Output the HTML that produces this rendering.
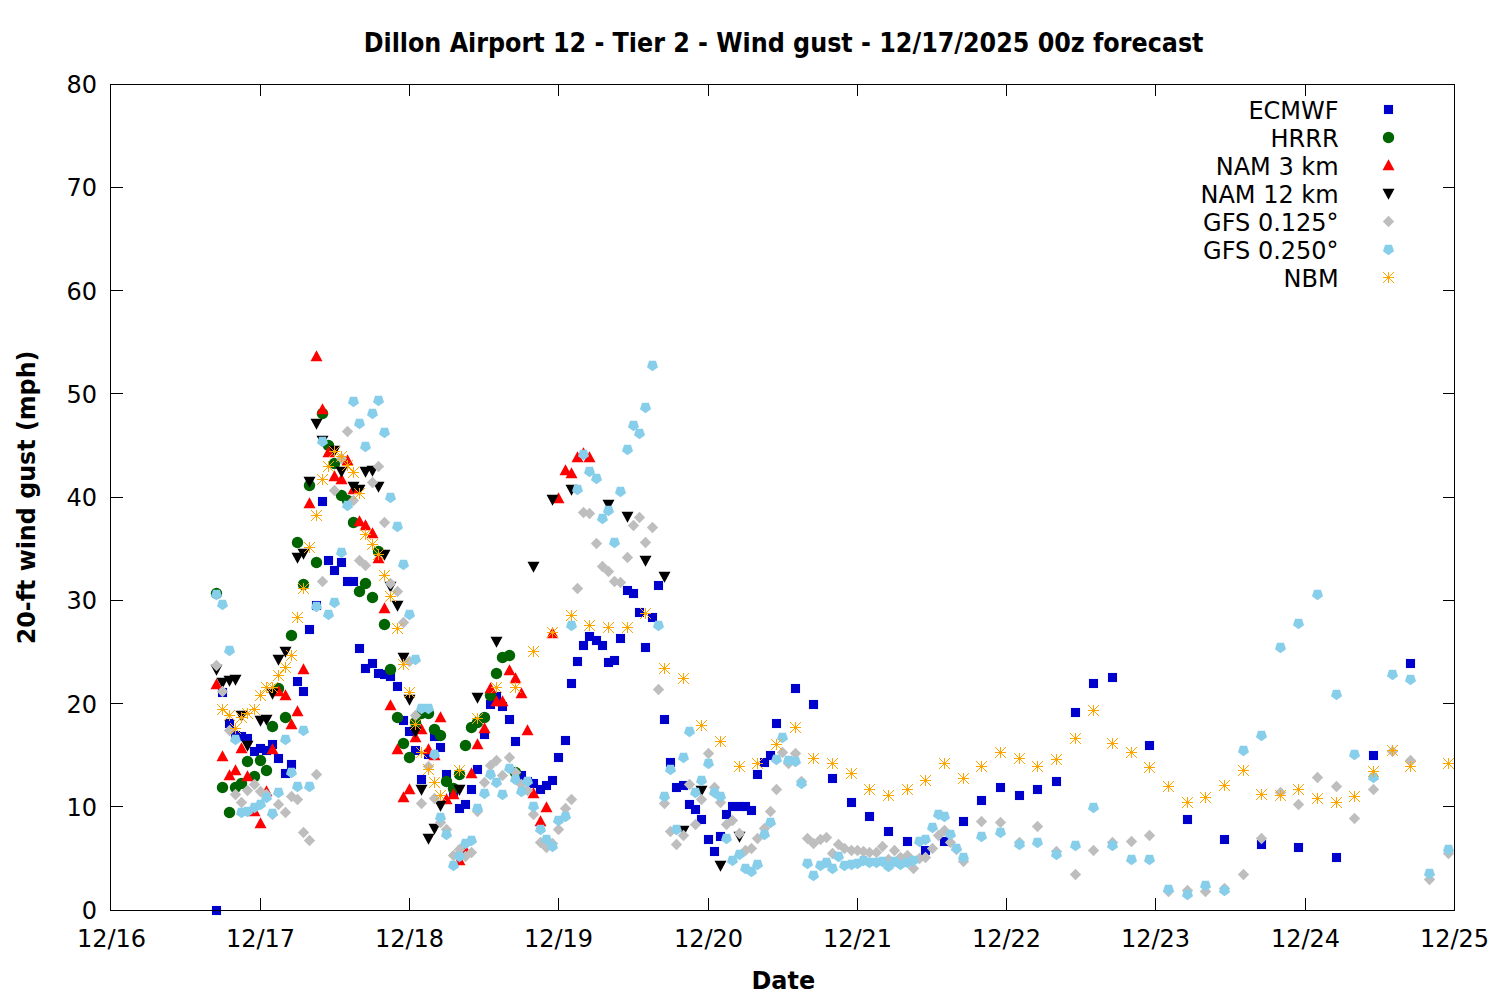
<!DOCTYPE html>
<html><head><meta charset="utf-8"><title>Dillon Airport 12 - Wind gust</title>
<style>html,body{margin:0;padding:0;background:#fff}svg{display:block}text{font-family:"DejaVu Sans","Liberation Sans",sans-serif;font-size:24px;fill:#000}.b{font-family:"DejaVu Sans Condensed","DejaVu Sans","Liberation Sans",sans-serif;font-stretch:condensed;font-weight:bold;font-size:26.5px}.c{font-size:25.2px}</style></head><body>
<svg width="1500" height="1000" viewBox="0 0 1500 1000">
<rect width="1500" height="1000" fill="#fff"/>
<text x="97" y="919.1" text-anchor="end">0</text>
<text x="97" y="815.9" text-anchor="end">10</text>
<text x="97" y="712.6" text-anchor="end">20</text>
<text x="97" y="609.4" text-anchor="end">30</text>
<text x="97" y="506.1" text-anchor="end">40</text>
<text x="97" y="402.9" text-anchor="end">50</text>
<text x="97" y="299.6" text-anchor="end">60</text>
<text x="97" y="196.4" text-anchor="end">70</text>
<text x="97" y="93.1" text-anchor="end">80</text>
<text x="111.5" y="947" text-anchor="middle">12/16</text>
<text x="260.5" y="947" text-anchor="middle">12/17</text>
<text x="409.5" y="947" text-anchor="middle">12/18</text>
<text x="558.5" y="947" text-anchor="middle">12/19</text>
<text x="708.5" y="947" text-anchor="middle">12/20</text>
<text x="857.5" y="947" text-anchor="middle">12/21</text>
<text x="1006.5" y="947" text-anchor="middle">12/22</text>
<text x="1155.5" y="947" text-anchor="middle">12/23</text>
<text x="1305.5" y="947" text-anchor="middle">12/24</text>
<text x="1454.5" y="947" text-anchor="middle">12/25</text>
<text class="b" x="783.6" y="51.6" text-anchor="middle">Dillon Airport 12 - Tier 2 - Wind gust - 12/17/2025 00z forecast</text>
<text class="b c" transform="translate(783.3 988.9) scale(1.055 1)" text-anchor="middle">Date</text>
<text class="b c" transform="translate(35 497.4) rotate(-90) scale(1.05 1)" text-anchor="middle">20-ft wind gust (mph)</text>
<g id="pts">
<g>
<rect x="211.95" y="905.95" width="9.1" height="9.1" fill="#0000cd"/>
<rect x="217.95" y="687.95" width="9.1" height="9.1" fill="#0000cd"/>
<rect x="224.95" y="718.95" width="9.1" height="9.1" fill="#0000cd"/>
<rect x="230.95" y="730.95" width="9.1" height="9.1" fill="#0000cd"/>
<rect x="236.95" y="731.95" width="9.1" height="9.1" fill="#0000cd"/>
<rect x="242.95" y="733.95" width="9.1" height="9.1" fill="#0000cd"/>
<rect x="249.95" y="746.95" width="9.1" height="9.1" fill="#0000cd"/>
<rect x="255.95" y="743.95" width="9.1" height="9.1" fill="#0000cd"/>
<rect x="261.95" y="745.95" width="9.1" height="9.1" fill="#0000cd"/>
<rect x="267.95" y="739.95" width="9.1" height="9.1" fill="#0000cd"/>
<rect x="273.95" y="753.95" width="9.1" height="9.1" fill="#0000cd"/>
<rect x="280.95" y="768.95" width="9.1" height="9.1" fill="#0000cd"/>
<rect x="286.95" y="759.95" width="9.1" height="9.1" fill="#0000cd"/>
<rect x="292.95" y="676.95" width="9.1" height="9.1" fill="#0000cd"/>
<rect x="298.95" y="686.95" width="9.1" height="9.1" fill="#0000cd"/>
<rect x="304.95" y="624.95" width="9.1" height="9.1" fill="#0000cd"/>
<rect x="311.95" y="600.95" width="9.1" height="9.1" fill="#0000cd"/>
<rect x="317.95" y="496.95" width="9.1" height="9.1" fill="#0000cd"/>
<rect x="323.95" y="555.95" width="9.1" height="9.1" fill="#0000cd"/>
<rect x="329.95" y="565.95" width="9.1" height="9.1" fill="#0000cd"/>
<rect x="336.95" y="557.95" width="9.1" height="9.1" fill="#0000cd"/>
<rect x="342.95" y="576.95" width="9.1" height="9.1" fill="#0000cd"/>
<rect x="348.95" y="576.95" width="9.1" height="9.1" fill="#0000cd"/>
<rect x="354.95" y="643.95" width="9.1" height="9.1" fill="#0000cd"/>
<rect x="360.95" y="663.95" width="9.1" height="9.1" fill="#0000cd"/>
<rect x="367.95" y="658.95" width="9.1" height="9.1" fill="#0000cd"/>
<rect x="373.95" y="668.95" width="9.1" height="9.1" fill="#0000cd"/>
<rect x="379.95" y="669.95" width="9.1" height="9.1" fill="#0000cd"/>
<rect x="385.95" y="671.95" width="9.1" height="9.1" fill="#0000cd"/>
<rect x="392.95" y="681.95" width="9.1" height="9.1" fill="#0000cd"/>
<rect x="398.95" y="715.95" width="9.1" height="9.1" fill="#0000cd"/>
<rect x="404.95" y="726.95" width="9.1" height="9.1" fill="#0000cd"/>
<rect x="410.95" y="745.95" width="9.1" height="9.1" fill="#0000cd"/>
<rect x="416.95" y="774.95" width="9.1" height="9.1" fill="#0000cd"/>
<rect x="423.95" y="749.95" width="9.1" height="9.1" fill="#0000cd"/>
<rect x="429.95" y="731.95" width="9.1" height="9.1" fill="#0000cd"/>
<rect x="435.95" y="742.95" width="9.1" height="9.1" fill="#0000cd"/>
<rect x="441.95" y="769.95" width="9.1" height="9.1" fill="#0000cd"/>
<rect x="448.95" y="787.95" width="9.1" height="9.1" fill="#0000cd"/>
<rect x="454.95" y="803.95" width="9.1" height="9.1" fill="#0000cd"/>
<rect x="460.95" y="799.95" width="9.1" height="9.1" fill="#0000cd"/>
<rect x="466.95" y="784.95" width="9.1" height="9.1" fill="#0000cd"/>
<rect x="472.95" y="764.95" width="9.1" height="9.1" fill="#0000cd"/>
<rect x="479.95" y="729.95" width="9.1" height="9.1" fill="#0000cd"/>
<rect x="485.95" y="699.95" width="9.1" height="9.1" fill="#0000cd"/>
<rect x="491.95" y="691.95" width="9.1" height="9.1" fill="#0000cd"/>
<rect x="497.95" y="701.95" width="9.1" height="9.1" fill="#0000cd"/>
<rect x="504.95" y="714.95" width="9.1" height="9.1" fill="#0000cd"/>
<rect x="510.95" y="736.95" width="9.1" height="9.1" fill="#0000cd"/>
<rect x="516.95" y="770.95" width="9.1" height="9.1" fill="#0000cd"/>
<rect x="522.95" y="776.95" width="9.1" height="9.1" fill="#0000cd"/>
<rect x="528.95" y="778.95" width="9.1" height="9.1" fill="#0000cd"/>
<rect x="535.95" y="784.95" width="9.1" height="9.1" fill="#0000cd"/>
<rect x="541.95" y="780.95" width="9.1" height="9.1" fill="#0000cd"/>
<rect x="547.95" y="775.95" width="9.1" height="9.1" fill="#0000cd"/>
<rect x="553.95" y="752.95" width="9.1" height="9.1" fill="#0000cd"/>
<rect x="560.95" y="735.95" width="9.1" height="9.1" fill="#0000cd"/>
<rect x="566.95" y="678.95" width="9.1" height="9.1" fill="#0000cd"/>
<rect x="572.95" y="656.95" width="9.1" height="9.1" fill="#0000cd"/>
<rect x="578.95" y="640.95" width="9.1" height="9.1" fill="#0000cd"/>
<rect x="584.95" y="631.95" width="9.1" height="9.1" fill="#0000cd"/>
<rect x="591.95" y="635.95" width="9.1" height="9.1" fill="#0000cd"/>
<rect x="597.95" y="640.95" width="9.1" height="9.1" fill="#0000cd"/>
<rect x="603.95" y="657.95" width="9.1" height="9.1" fill="#0000cd"/>
<rect x="609.95" y="655.95" width="9.1" height="9.1" fill="#0000cd"/>
<rect x="615.95" y="633.95" width="9.1" height="9.1" fill="#0000cd"/>
<rect x="622.95" y="585.95" width="9.1" height="9.1" fill="#0000cd"/>
<rect x="628.95" y="588.95" width="9.1" height="9.1" fill="#0000cd"/>
<rect x="634.95" y="607.95" width="9.1" height="9.1" fill="#0000cd"/>
<rect x="640.95" y="642.95" width="9.1" height="9.1" fill="#0000cd"/>
<rect x="647.95" y="612.95" width="9.1" height="9.1" fill="#0000cd"/>
<rect x="653.95" y="580.95" width="9.1" height="9.1" fill="#0000cd"/>
<rect x="659.95" y="714.95" width="9.1" height="9.1" fill="#0000cd"/>
<rect x="665.95" y="757.95" width="9.1" height="9.1" fill="#0000cd"/>
<rect x="671.95" y="782.95" width="9.1" height="9.1" fill="#0000cd"/>
<rect x="678.95" y="780.95" width="9.1" height="9.1" fill="#0000cd"/>
<rect x="684.95" y="799.95" width="9.1" height="9.1" fill="#0000cd"/>
<rect x="690.95" y="804.95" width="9.1" height="9.1" fill="#0000cd"/>
<rect x="696.95" y="814.95" width="9.1" height="9.1" fill="#0000cd"/>
<rect x="703.95" y="834.95" width="9.1" height="9.1" fill="#0000cd"/>
<rect x="709.95" y="846.95" width="9.1" height="9.1" fill="#0000cd"/>
<rect x="715.95" y="831.95" width="9.1" height="9.1" fill="#0000cd"/>
<rect x="721.95" y="809.95" width="9.1" height="9.1" fill="#0000cd"/>
<rect x="727.95" y="801.95" width="9.1" height="9.1" fill="#0000cd"/>
<rect x="734.95" y="801.95" width="9.1" height="9.1" fill="#0000cd"/>
<rect x="740.95" y="801.95" width="9.1" height="9.1" fill="#0000cd"/>
<rect x="746.95" y="805.95" width="9.1" height="9.1" fill="#0000cd"/>
<rect x="752.95" y="769.95" width="9.1" height="9.1" fill="#0000cd"/>
<rect x="759.95" y="757.95" width="9.1" height="9.1" fill="#0000cd"/>
<rect x="765.95" y="750.95" width="9.1" height="9.1" fill="#0000cd"/>
<rect x="771.95" y="718.95" width="9.1" height="9.1" fill="#0000cd"/>
<rect x="790.95" y="683.95" width="9.1" height="9.1" fill="#0000cd"/>
<rect x="808.95" y="699.95" width="9.1" height="9.1" fill="#0000cd"/>
<rect x="827.95" y="773.95" width="9.1" height="9.1" fill="#0000cd"/>
<rect x="846.95" y="797.95" width="9.1" height="9.1" fill="#0000cd"/>
<rect x="864.95" y="811.95" width="9.1" height="9.1" fill="#0000cd"/>
<rect x="883.95" y="826.95" width="9.1" height="9.1" fill="#0000cd"/>
<rect x="902.95" y="836.95" width="9.1" height="9.1" fill="#0000cd"/>
<rect x="920.95" y="845.95" width="9.1" height="9.1" fill="#0000cd"/>
<rect x="939.95" y="836.95" width="9.1" height="9.1" fill="#0000cd"/>
<rect x="958.95" y="816.95" width="9.1" height="9.1" fill="#0000cd"/>
<rect x="976.95" y="795.95" width="9.1" height="9.1" fill="#0000cd"/>
<rect x="995.95" y="782.95" width="9.1" height="9.1" fill="#0000cd"/>
<rect x="1014.95" y="790.95" width="9.1" height="9.1" fill="#0000cd"/>
<rect x="1032.95" y="784.95" width="9.1" height="9.1" fill="#0000cd"/>
<rect x="1051.95" y="776.95" width="9.1" height="9.1" fill="#0000cd"/>
<rect x="1070.95" y="707.95" width="9.1" height="9.1" fill="#0000cd"/>
<rect x="1088.95" y="678.95" width="9.1" height="9.1" fill="#0000cd"/>
<rect x="1107.95" y="672.95" width="9.1" height="9.1" fill="#0000cd"/>
<rect x="1144.95" y="740.95" width="9.1" height="9.1" fill="#0000cd"/>
<rect x="1182.95" y="814.95" width="9.1" height="9.1" fill="#0000cd"/>
<rect x="1219.95" y="834.95" width="9.1" height="9.1" fill="#0000cd"/>
<rect x="1256.95" y="839.95" width="9.1" height="9.1" fill="#0000cd"/>
<rect x="1293.95" y="842.95" width="9.1" height="9.1" fill="#0000cd"/>
<rect x="1331.95" y="852.95" width="9.1" height="9.1" fill="#0000cd"/>
<rect x="1368.95" y="750.95" width="9.1" height="9.1" fill="#0000cd"/>
<rect x="1405.95" y="658.95" width="9.1" height="9.1" fill="#0000cd"/>
</g>
<g>
<circle cx="216.5" cy="593.5" r="5.7" fill="#006400"/>
<circle cx="222.5" cy="787.5" r="5.7" fill="#006400"/>
<circle cx="229.5" cy="812.5" r="5.7" fill="#006400"/>
<circle cx="235.5" cy="787.5" r="5.7" fill="#006400"/>
<circle cx="241.5" cy="783.5" r="5.7" fill="#006400"/>
<circle cx="247.5" cy="761.5" r="5.7" fill="#006400"/>
<circle cx="254.5" cy="776.5" r="5.7" fill="#006400"/>
<circle cx="260.5" cy="760.5" r="5.7" fill="#006400"/>
<circle cx="266.5" cy="770.5" r="5.7" fill="#006400"/>
<circle cx="272.5" cy="726.5" r="5.7" fill="#006400"/>
<circle cx="278.5" cy="688.5" r="5.7" fill="#006400"/>
<circle cx="285.5" cy="717.5" r="5.7" fill="#006400"/>
<circle cx="291.5" cy="635.5" r="5.7" fill="#006400"/>
<circle cx="297.5" cy="542.5" r="5.7" fill="#006400"/>
<circle cx="303.5" cy="584.5" r="5.7" fill="#006400"/>
<circle cx="309.5" cy="485.5" r="5.7" fill="#006400"/>
<circle cx="316.5" cy="562.5" r="5.7" fill="#006400"/>
<circle cx="322.5" cy="413.5" r="5.7" fill="#006400"/>
<circle cx="328.5" cy="445.5" r="5.7" fill="#006400"/>
<circle cx="334.5" cy="463.5" r="5.7" fill="#006400"/>
<circle cx="341.5" cy="495.5" r="5.7" fill="#006400"/>
<circle cx="347.5" cy="500.5" r="5.7" fill="#006400"/>
<circle cx="353.5" cy="522.5" r="5.7" fill="#006400"/>
<circle cx="359.5" cy="591.5" r="5.7" fill="#006400"/>
<circle cx="365.5" cy="583.5" r="5.7" fill="#006400"/>
<circle cx="372.5" cy="597.5" r="5.7" fill="#006400"/>
<circle cx="378.5" cy="551.5" r="5.7" fill="#006400"/>
<circle cx="384.5" cy="624.5" r="5.7" fill="#006400"/>
<circle cx="390.5" cy="669.5" r="5.7" fill="#006400"/>
<circle cx="397.5" cy="717.5" r="5.7" fill="#006400"/>
<circle cx="403.5" cy="743.5" r="5.7" fill="#006400"/>
<circle cx="409.5" cy="757.5" r="5.7" fill="#006400"/>
<circle cx="415.5" cy="722.5" r="5.7" fill="#006400"/>
<circle cx="421.5" cy="713.5" r="5.7" fill="#006400"/>
<circle cx="428.5" cy="713.5" r="5.7" fill="#006400"/>
<circle cx="434.5" cy="729.5" r="5.7" fill="#006400"/>
<circle cx="440.5" cy="735.5" r="5.7" fill="#006400"/>
<circle cx="446.5" cy="781.5" r="5.7" fill="#006400"/>
<circle cx="453.5" cy="788.5" r="5.7" fill="#006400"/>
<circle cx="459.5" cy="774.5" r="5.7" fill="#006400"/>
<circle cx="465.5" cy="745.5" r="5.7" fill="#006400"/>
<circle cx="471.5" cy="727.5" r="5.7" fill="#006400"/>
<circle cx="477.5" cy="722.5" r="5.7" fill="#006400"/>
<circle cx="484.5" cy="717.5" r="5.7" fill="#006400"/>
<circle cx="490.5" cy="695.5" r="5.7" fill="#006400"/>
<circle cx="496.5" cy="673.5" r="5.7" fill="#006400"/>
<circle cx="502.5" cy="657.5" r="5.7" fill="#006400"/>
<circle cx="509.5" cy="655.5" r="5.7" fill="#006400"/>
<circle cx="515.5" cy="772.5" r="5.7" fill="#006400"/>
</g>
<g>
<path d="M216.5 678.2l6 10.95h-12z" fill="#ff0000"/>
<path d="M222.5 750.2l6 10.95h-12z" fill="#ff0000"/>
<path d="M229.5 769.2l6 10.95h-12z" fill="#ff0000"/>
<path d="M235.5 764.2l6 10.95h-12z" fill="#ff0000"/>
<path d="M241.5 742.2l6 10.95h-12z" fill="#ff0000"/>
<path d="M247.5 770.2l6 10.95h-12z" fill="#ff0000"/>
<path d="M254.5 805.2l6 10.95h-12z" fill="#ff0000"/>
<path d="M260.5 817.2l6 10.95h-12z" fill="#ff0000"/>
<path d="M266.5 785.2l6 10.95h-12z" fill="#ff0000"/>
<path d="M272.5 743.2l6 10.95h-12z" fill="#ff0000"/>
<path d="M278.5 685.2l6 10.95h-12z" fill="#ff0000"/>
<path d="M285.5 689.2l6 10.95h-12z" fill="#ff0000"/>
<path d="M291.5 718.2l6 10.95h-12z" fill="#ff0000"/>
<path d="M297.5 705.2l6 10.95h-12z" fill="#ff0000"/>
<path d="M303.5 663.2l6 10.95h-12z" fill="#ff0000"/>
<path d="M309.5 497.2l6 10.95h-12z" fill="#ff0000"/>
<path d="M316.5 350.2l6 10.95h-12z" fill="#ff0000"/>
<path d="M322.5 403.2l6 10.95h-12z" fill="#ff0000"/>
<path d="M328.5 446.2l6 10.95h-12z" fill="#ff0000"/>
<path d="M334.5 470.2l6 10.95h-12z" fill="#ff0000"/>
<path d="M341.5 473.2l6 10.95h-12z" fill="#ff0000"/>
<path d="M347.5 454.2l6 10.95h-12z" fill="#ff0000"/>
<path d="M353.5 483.2l6 10.95h-12z" fill="#ff0000"/>
<path d="M359.5 515.2l6 10.95h-12z" fill="#ff0000"/>
<path d="M365.5 519.2l6 10.95h-12z" fill="#ff0000"/>
<path d="M372.5 527.2l6 10.95h-12z" fill="#ff0000"/>
<path d="M378.5 552.2l6 10.95h-12z" fill="#ff0000"/>
<path d="M384.5 602.2l6 10.95h-12z" fill="#ff0000"/>
<path d="M390.5 699.2l6 10.95h-12z" fill="#ff0000"/>
<path d="M397.5 743.2l6 10.95h-12z" fill="#ff0000"/>
<path d="M403.5 791.2l6 10.95h-12z" fill="#ff0000"/>
<path d="M409.5 783.2l6 10.95h-12z" fill="#ff0000"/>
<path d="M415.5 731.2l6 10.95h-12z" fill="#ff0000"/>
<path d="M421.5 723.2l6 10.95h-12z" fill="#ff0000"/>
<path d="M428.5 743.2l6 10.95h-12z" fill="#ff0000"/>
<path d="M434.5 749.2l6 10.95h-12z" fill="#ff0000"/>
<path d="M440.5 711.2l6 10.95h-12z" fill="#ff0000"/>
<path d="M446.5 793.2l6 10.95h-12z" fill="#ff0000"/>
<path d="M453.5 788.2l6 10.95h-12z" fill="#ff0000"/>
<path d="M459.5 854.2l6 10.95h-12z" fill="#ff0000"/>
<path d="M465.5 844.2l6 10.95h-12z" fill="#ff0000"/>
<path d="M471.5 767.2l6 10.95h-12z" fill="#ff0000"/>
<path d="M477.5 738.2l6 10.95h-12z" fill="#ff0000"/>
<path d="M484.5 722.2l6 10.95h-12z" fill="#ff0000"/>
<path d="M490.5 682.2l6 10.95h-12z" fill="#ff0000"/>
<path d="M496.5 695.2l6 10.95h-12z" fill="#ff0000"/>
<path d="M502.5 695.2l6 10.95h-12z" fill="#ff0000"/>
<path d="M509.5 664.2l6 10.95h-12z" fill="#ff0000"/>
<path d="M515.5 672.2l6 10.95h-12z" fill="#ff0000"/>
<path d="M521.5 687.2l6 10.95h-12z" fill="#ff0000"/>
<path d="M527.5 724.2l6 10.95h-12z" fill="#ff0000"/>
<path d="M533.5 787.2l6 10.95h-12z" fill="#ff0000"/>
<path d="M540.5 815.2l6 10.95h-12z" fill="#ff0000"/>
<path d="M546.5 801.2l6 10.95h-12z" fill="#ff0000"/>
<path d="M552.5 627.2l6 10.95h-12z" fill="#ff0000"/>
<path d="M558.5 492.2l6 10.95h-12z" fill="#ff0000"/>
<path d="M565.5 464.2l6 10.95h-12z" fill="#ff0000"/>
<path d="M571.5 467.2l6 10.95h-12z" fill="#ff0000"/>
<path d="M577.5 451.2l6 10.95h-12z" fill="#ff0000"/>
<path d="M583.5 447.2l6 10.95h-12z" fill="#ff0000"/>
<path d="M589.5 451.2l6 10.95h-12z" fill="#ff0000"/>
</g>
<g>
<path d="M216.5 675.8l6 -10.95h-12z" fill="#000000"/>
<path d="M222.5 688.8l6 -10.95h-12z" fill="#000000"/>
<path d="M229.5 686.8l6 -10.95h-12z" fill="#000000"/>
<path d="M235.5 685.8l6 -10.95h-12z" fill="#000000"/>
<path d="M241.5 721.8l6 -10.95h-12z" fill="#000000"/>
<path d="M247.5 751.8l6 -10.95h-12z" fill="#000000"/>
<path d="M260.5 726.8l6 -10.95h-12z" fill="#000000"/>
<path d="M266.5 725.8l6 -10.95h-12z" fill="#000000"/>
<path d="M272.5 699.8l6 -10.95h-12z" fill="#000000"/>
<path d="M278.5 665.8l6 -10.95h-12z" fill="#000000"/>
<path d="M285.5 657.8l6 -10.95h-12z" fill="#000000"/>
<path d="M297.5 563.8l6 -10.95h-12z" fill="#000000"/>
<path d="M303.5 559.8l6 -10.95h-12z" fill="#000000"/>
<path d="M309.5 487.8l6 -10.95h-12z" fill="#000000"/>
<path d="M316.5 429.8l6 -10.95h-12z" fill="#000000"/>
<path d="M322.5 446.8l6 -10.95h-12z" fill="#000000"/>
<path d="M334.5 456.8l6 -10.95h-12z" fill="#000000"/>
<path d="M341.5 477.8l6 -10.95h-12z" fill="#000000"/>
<path d="M353.5 492.8l6 -10.95h-12z" fill="#000000"/>
<path d="M359.5 495.8l6 -10.95h-12z" fill="#000000"/>
<path d="M365.5 477.8l6 -10.95h-12z" fill="#000000"/>
<path d="M372.5 476.8l6 -10.95h-12z" fill="#000000"/>
<path d="M378.5 492.8l6 -10.95h-12z" fill="#000000"/>
<path d="M384.5 560.8l6 -10.95h-12z" fill="#000000"/>
<path d="M390.5 592.8l6 -10.95h-12z" fill="#000000"/>
<path d="M397.5 611.8l6 -10.95h-12z" fill="#000000"/>
<path d="M403.5 663.8l6 -10.95h-12z" fill="#000000"/>
<path d="M409.5 705.8l6 -10.95h-12z" fill="#000000"/>
<path d="M415.5 737.8l6 -10.95h-12z" fill="#000000"/>
<path d="M421.5 795.8l6 -10.95h-12z" fill="#000000"/>
<path d="M428.5 844.8l6 -10.95h-12z" fill="#000000"/>
<path d="M434.5 834.8l6 -10.95h-12z" fill="#000000"/>
<path d="M440.5 811.8l6 -10.95h-12z" fill="#000000"/>
<path d="M459.5 795.8l6 -10.95h-12z" fill="#000000"/>
<path d="M477.5 703.8l6 -10.95h-12z" fill="#000000"/>
<path d="M496.5 647.8l6 -10.95h-12z" fill="#000000"/>
<path d="M533.5 572.8l6 -10.95h-12z" fill="#000000"/>
<path d="M552.5 505.8l6 -10.95h-12z" fill="#000000"/>
<path d="M571.5 495.8l6 -10.95h-12z" fill="#000000"/>
<path d="M608.5 510.8l6 -10.95h-12z" fill="#000000"/>
<path d="M627.5 522.8l6 -10.95h-12z" fill="#000000"/>
<path d="M645.5 566.8l6 -10.95h-12z" fill="#000000"/>
<path d="M664.5 582.8l6 -10.95h-12z" fill="#000000"/>
<path d="M683.5 836.8l6 -10.95h-12z" fill="#000000"/>
<path d="M701.5 796.8l6 -10.95h-12z" fill="#000000"/>
<path d="M720.5 871.8l6 -10.95h-12z" fill="#000000"/>
<path d="M739.5 842.8l6 -10.95h-12z" fill="#000000"/>
</g>
<g>
<path d="M216.5 659.8l5.7 5.7l-5.7 5.7l-5.7 -5.7z" fill="#bebebe"/>
<path d="M222.5 685.8l5.7 5.7l-5.7 5.7l-5.7 -5.7z" fill="#bebebe"/>
<path d="M229.5 724.8l5.7 5.7l-5.7 5.7l-5.7 -5.7z" fill="#bebebe"/>
<path d="M235.5 788.8l5.7 5.7l-5.7 5.7l-5.7 -5.7z" fill="#bebebe"/>
<path d="M241.5 796.8l5.7 5.7l-5.7 5.7l-5.7 -5.7z" fill="#bebebe"/>
<path d="M247.5 784.8l5.7 5.7l-5.7 5.7l-5.7 -5.7z" fill="#bebebe"/>
<path d="M254.5 778.8l5.7 5.7l-5.7 5.7l-5.7 -5.7z" fill="#bebebe"/>
<path d="M260.5 785.8l5.7 5.7l-5.7 5.7l-5.7 -5.7z" fill="#bebebe"/>
<path d="M266.5 788.8l5.7 5.7l-5.7 5.7l-5.7 -5.7z" fill="#bebebe"/>
<path d="M272.5 808.8l5.7 5.7l-5.7 5.7l-5.7 -5.7z" fill="#bebebe"/>
<path d="M278.5 798.8l5.7 5.7l-5.7 5.7l-5.7 -5.7z" fill="#bebebe"/>
<path d="M285.5 806.8l5.7 5.7l-5.7 5.7l-5.7 -5.7z" fill="#bebebe"/>
<path d="M291.5 790.8l5.7 5.7l-5.7 5.7l-5.7 -5.7z" fill="#bebebe"/>
<path d="M297.5 793.8l5.7 5.7l-5.7 5.7l-5.7 -5.7z" fill="#bebebe"/>
<path d="M303.5 826.8l5.7 5.7l-5.7 5.7l-5.7 -5.7z" fill="#bebebe"/>
<path d="M309.5 834.8l5.7 5.7l-5.7 5.7l-5.7 -5.7z" fill="#bebebe"/>
<path d="M316.5 768.8l5.7 5.7l-5.7 5.7l-5.7 -5.7z" fill="#bebebe"/>
<path d="M322.5 575.8l5.7 5.7l-5.7 5.7l-5.7 -5.7z" fill="#bebebe"/>
<path d="M334.5 484.8l5.7 5.7l-5.7 5.7l-5.7 -5.7z" fill="#bebebe"/>
<path d="M341.5 452.8l5.7 5.7l-5.7 5.7l-5.7 -5.7z" fill="#bebebe"/>
<path d="M347.5 425.8l5.7 5.7l-5.7 5.7l-5.7 -5.7z" fill="#bebebe"/>
<path d="M353.5 494.8l5.7 5.7l-5.7 5.7l-5.7 -5.7z" fill="#bebebe"/>
<path d="M359.5 554.8l5.7 5.7l-5.7 5.7l-5.7 -5.7z" fill="#bebebe"/>
<path d="M365.5 559.8l5.7 5.7l-5.7 5.7l-5.7 -5.7z" fill="#bebebe"/>
<path d="M372.5 476.8l5.7 5.7l-5.7 5.7l-5.7 -5.7z" fill="#bebebe"/>
<path d="M378.5 460.8l5.7 5.7l-5.7 5.7l-5.7 -5.7z" fill="#bebebe"/>
<path d="M384.5 516.8l5.7 5.7l-5.7 5.7l-5.7 -5.7z" fill="#bebebe"/>
<path d="M390.5 577.8l5.7 5.7l-5.7 5.7l-5.7 -5.7z" fill="#bebebe"/>
<path d="M397.5 585.8l5.7 5.7l-5.7 5.7l-5.7 -5.7z" fill="#bebebe"/>
<path d="M403.5 616.8l5.7 5.7l-5.7 5.7l-5.7 -5.7z" fill="#bebebe"/>
<path d="M409.5 655.8l5.7 5.7l-5.7 5.7l-5.7 -5.7z" fill="#bebebe"/>
<path d="M415.5 709.8l5.7 5.7l-5.7 5.7l-5.7 -5.7z" fill="#bebebe"/>
<path d="M421.5 797.8l5.7 5.7l-5.7 5.7l-5.7 -5.7z" fill="#bebebe"/>
<path d="M428.5 760.8l5.7 5.7l-5.7 5.7l-5.7 -5.7z" fill="#bebebe"/>
<path d="M434.5 792.8l5.7 5.7l-5.7 5.7l-5.7 -5.7z" fill="#bebebe"/>
<path d="M440.5 816.8l5.7 5.7l-5.7 5.7l-5.7 -5.7z" fill="#bebebe"/>
<path d="M446.5 823.8l5.7 5.7l-5.7 5.7l-5.7 -5.7z" fill="#bebebe"/>
<path d="M453.5 849.8l5.7 5.7l-5.7 5.7l-5.7 -5.7z" fill="#bebebe"/>
<path d="M459.5 843.8l5.7 5.7l-5.7 5.7l-5.7 -5.7z" fill="#bebebe"/>
<path d="M465.5 850.8l5.7 5.7l-5.7 5.7l-5.7 -5.7z" fill="#bebebe"/>
<path d="M471.5 846.8l5.7 5.7l-5.7 5.7l-5.7 -5.7z" fill="#bebebe"/>
<path d="M477.5 805.8l5.7 5.7l-5.7 5.7l-5.7 -5.7z" fill="#bebebe"/>
<path d="M484.5 776.8l5.7 5.7l-5.7 5.7l-5.7 -5.7z" fill="#bebebe"/>
<path d="M490.5 759.8l5.7 5.7l-5.7 5.7l-5.7 -5.7z" fill="#bebebe"/>
<path d="M496.5 754.8l5.7 5.7l-5.7 5.7l-5.7 -5.7z" fill="#bebebe"/>
<path d="M502.5 769.8l5.7 5.7l-5.7 5.7l-5.7 -5.7z" fill="#bebebe"/>
<path d="M509.5 751.8l5.7 5.7l-5.7 5.7l-5.7 -5.7z" fill="#bebebe"/>
<path d="M515.5 766.8l5.7 5.7l-5.7 5.7l-5.7 -5.7z" fill="#bebebe"/>
<path d="M521.5 778.8l5.7 5.7l-5.7 5.7l-5.7 -5.7z" fill="#bebebe"/>
<path d="M527.5 784.8l5.7 5.7l-5.7 5.7l-5.7 -5.7z" fill="#bebebe"/>
<path d="M533.5 808.8l5.7 5.7l-5.7 5.7l-5.7 -5.7z" fill="#bebebe"/>
<path d="M540.5 836.8l5.7 5.7l-5.7 5.7l-5.7 -5.7z" fill="#bebebe"/>
<path d="M546.5 841.8l5.7 5.7l-5.7 5.7l-5.7 -5.7z" fill="#bebebe"/>
<path d="M552.5 837.8l5.7 5.7l-5.7 5.7l-5.7 -5.7z" fill="#bebebe"/>
<path d="M558.5 823.8l5.7 5.7l-5.7 5.7l-5.7 -5.7z" fill="#bebebe"/>
<path d="M565.5 802.8l5.7 5.7l-5.7 5.7l-5.7 -5.7z" fill="#bebebe"/>
<path d="M571.5 793.8l5.7 5.7l-5.7 5.7l-5.7 -5.7z" fill="#bebebe"/>
<path d="M577.5 582.8l5.7 5.7l-5.7 5.7l-5.7 -5.7z" fill="#bebebe"/>
<path d="M583.5 506.8l5.7 5.7l-5.7 5.7l-5.7 -5.7z" fill="#bebebe"/>
<path d="M589.5 507.8l5.7 5.7l-5.7 5.7l-5.7 -5.7z" fill="#bebebe"/>
<path d="M596.5 537.8l5.7 5.7l-5.7 5.7l-5.7 -5.7z" fill="#bebebe"/>
<path d="M602.5 560.8l5.7 5.7l-5.7 5.7l-5.7 -5.7z" fill="#bebebe"/>
<path d="M608.5 565.8l5.7 5.7l-5.7 5.7l-5.7 -5.7z" fill="#bebebe"/>
<path d="M614.5 575.8l5.7 5.7l-5.7 5.7l-5.7 -5.7z" fill="#bebebe"/>
<path d="M620.5 576.8l5.7 5.7l-5.7 5.7l-5.7 -5.7z" fill="#bebebe"/>
<path d="M627.5 551.8l5.7 5.7l-5.7 5.7l-5.7 -5.7z" fill="#bebebe"/>
<path d="M633.5 519.8l5.7 5.7l-5.7 5.7l-5.7 -5.7z" fill="#bebebe"/>
<path d="M639.5 511.8l5.7 5.7l-5.7 5.7l-5.7 -5.7z" fill="#bebebe"/>
<path d="M645.5 536.8l5.7 5.7l-5.7 5.7l-5.7 -5.7z" fill="#bebebe"/>
<path d="M652.5 521.8l5.7 5.7l-5.7 5.7l-5.7 -5.7z" fill="#bebebe"/>
<path d="M658.5 683.8l5.7 5.7l-5.7 5.7l-5.7 -5.7z" fill="#bebebe"/>
<path d="M664.5 797.8l5.7 5.7l-5.7 5.7l-5.7 -5.7z" fill="#bebebe"/>
<path d="M670.5 825.8l5.7 5.7l-5.7 5.7l-5.7 -5.7z" fill="#bebebe"/>
<path d="M676.5 838.8l5.7 5.7l-5.7 5.7l-5.7 -5.7z" fill="#bebebe"/>
<path d="M683.5 829.8l5.7 5.7l-5.7 5.7l-5.7 -5.7z" fill="#bebebe"/>
<path d="M689.5 778.8l5.7 5.7l-5.7 5.7l-5.7 -5.7z" fill="#bebebe"/>
<path d="M695.5 818.8l5.7 5.7l-5.7 5.7l-5.7 -5.7z" fill="#bebebe"/>
<path d="M701.5 793.8l5.7 5.7l-5.7 5.7l-5.7 -5.7z" fill="#bebebe"/>
<path d="M708.5 747.8l5.7 5.7l-5.7 5.7l-5.7 -5.7z" fill="#bebebe"/>
<path d="M714.5 781.8l5.7 5.7l-5.7 5.7l-5.7 -5.7z" fill="#bebebe"/>
<path d="M720.5 796.8l5.7 5.7l-5.7 5.7l-5.7 -5.7z" fill="#bebebe"/>
<path d="M726.5 818.8l5.7 5.7l-5.7 5.7l-5.7 -5.7z" fill="#bebebe"/>
<path d="M732.5 814.8l5.7 5.7l-5.7 5.7l-5.7 -5.7z" fill="#bebebe"/>
<path d="M739.5 827.8l5.7 5.7l-5.7 5.7l-5.7 -5.7z" fill="#bebebe"/>
<path d="M745.5 844.8l5.7 5.7l-5.7 5.7l-5.7 -5.7z" fill="#bebebe"/>
<path d="M751.5 842.8l5.7 5.7l-5.7 5.7l-5.7 -5.7z" fill="#bebebe"/>
<path d="M757.5 832.8l5.7 5.7l-5.7 5.7l-5.7 -5.7z" fill="#bebebe"/>
<path d="M764.5 822.8l5.7 5.7l-5.7 5.7l-5.7 -5.7z" fill="#bebebe"/>
<path d="M770.5 805.8l5.7 5.7l-5.7 5.7l-5.7 -5.7z" fill="#bebebe"/>
<path d="M776.5 783.8l5.7 5.7l-5.7 5.7l-5.7 -5.7z" fill="#bebebe"/>
<path d="M782.5 746.8l5.7 5.7l-5.7 5.7l-5.7 -5.7z" fill="#bebebe"/>
<path d="M788.5 757.8l5.7 5.7l-5.7 5.7l-5.7 -5.7z" fill="#bebebe"/>
<path d="M795.5 747.8l5.7 5.7l-5.7 5.7l-5.7 -5.7z" fill="#bebebe"/>
<path d="M801.5 775.8l5.7 5.7l-5.7 5.7l-5.7 -5.7z" fill="#bebebe"/>
<path d="M807.5 832.8l5.7 5.7l-5.7 5.7l-5.7 -5.7z" fill="#bebebe"/>
<path d="M813.5 837.8l5.7 5.7l-5.7 5.7l-5.7 -5.7z" fill="#bebebe"/>
<path d="M820.5 833.8l5.7 5.7l-5.7 5.7l-5.7 -5.7z" fill="#bebebe"/>
<path d="M826.5 831.8l5.7 5.7l-5.7 5.7l-5.7 -5.7z" fill="#bebebe"/>
<path d="M832.5 847.8l5.7 5.7l-5.7 5.7l-5.7 -5.7z" fill="#bebebe"/>
<path d="M838.5 838.8l5.7 5.7l-5.7 5.7l-5.7 -5.7z" fill="#bebebe"/>
<path d="M844.5 842.8l5.7 5.7l-5.7 5.7l-5.7 -5.7z" fill="#bebebe"/>
<path d="M851.5 844.8l5.7 5.7l-5.7 5.7l-5.7 -5.7z" fill="#bebebe"/>
<path d="M857.5 844.8l5.7 5.7l-5.7 5.7l-5.7 -5.7z" fill="#bebebe"/>
<path d="M863.5 845.8l5.7 5.7l-5.7 5.7l-5.7 -5.7z" fill="#bebebe"/>
<path d="M869.5 846.8l5.7 5.7l-5.7 5.7l-5.7 -5.7z" fill="#bebebe"/>
<path d="M876.5 846.8l5.7 5.7l-5.7 5.7l-5.7 -5.7z" fill="#bebebe"/>
<path d="M882.5 840.8l5.7 5.7l-5.7 5.7l-5.7 -5.7z" fill="#bebebe"/>
<path d="M888.5 853.8l5.7 5.7l-5.7 5.7l-5.7 -5.7z" fill="#bebebe"/>
<path d="M894.5 844.8l5.7 5.7l-5.7 5.7l-5.7 -5.7z" fill="#bebebe"/>
<path d="M900.5 851.8l5.7 5.7l-5.7 5.7l-5.7 -5.7z" fill="#bebebe"/>
<path d="M907.5 849.8l5.7 5.7l-5.7 5.7l-5.7 -5.7z" fill="#bebebe"/>
<path d="M913.5 862.8l5.7 5.7l-5.7 5.7l-5.7 -5.7z" fill="#bebebe"/>
<path d="M919.5 852.8l5.7 5.7l-5.7 5.7l-5.7 -5.7z" fill="#bebebe"/>
<path d="M925.5 851.8l5.7 5.7l-5.7 5.7l-5.7 -5.7z" fill="#bebebe"/>
<path d="M932.5 842.8l5.7 5.7l-5.7 5.7l-5.7 -5.7z" fill="#bebebe"/>
<path d="M938.5 829.8l5.7 5.7l-5.7 5.7l-5.7 -5.7z" fill="#bebebe"/>
<path d="M944.5 824.8l5.7 5.7l-5.7 5.7l-5.7 -5.7z" fill="#bebebe"/>
<path d="M950.5 836.8l5.7 5.7l-5.7 5.7l-5.7 -5.7z" fill="#bebebe"/>
<path d="M956.5 843.8l5.7 5.7l-5.7 5.7l-5.7 -5.7z" fill="#bebebe"/>
<path d="M963.5 855.8l5.7 5.7l-5.7 5.7l-5.7 -5.7z" fill="#bebebe"/>
<path d="M981.5 815.8l5.7 5.7l-5.7 5.7l-5.7 -5.7z" fill="#bebebe"/>
<path d="M1000.5 816.8l5.7 5.7l-5.7 5.7l-5.7 -5.7z" fill="#bebebe"/>
<path d="M1019.5 836.8l5.7 5.7l-5.7 5.7l-5.7 -5.7z" fill="#bebebe"/>
<path d="M1037.5 820.8l5.7 5.7l-5.7 5.7l-5.7 -5.7z" fill="#bebebe"/>
<path d="M1056.5 845.8l5.7 5.7l-5.7 5.7l-5.7 -5.7z" fill="#bebebe"/>
<path d="M1075.5 868.8l5.7 5.7l-5.7 5.7l-5.7 -5.7z" fill="#bebebe"/>
<path d="M1093.5 844.8l5.7 5.7l-5.7 5.7l-5.7 -5.7z" fill="#bebebe"/>
<path d="M1112.5 836.8l5.7 5.7l-5.7 5.7l-5.7 -5.7z" fill="#bebebe"/>
<path d="M1131.5 835.8l5.7 5.7l-5.7 5.7l-5.7 -5.7z" fill="#bebebe"/>
<path d="M1149.5 829.8l5.7 5.7l-5.7 5.7l-5.7 -5.7z" fill="#bebebe"/>
<path d="M1168.5 885.8l5.7 5.7l-5.7 5.7l-5.7 -5.7z" fill="#bebebe"/>
<path d="M1187.5 884.8l5.7 5.7l-5.7 5.7l-5.7 -5.7z" fill="#bebebe"/>
<path d="M1205.5 885.8l5.7 5.7l-5.7 5.7l-5.7 -5.7z" fill="#bebebe"/>
<path d="M1224.5 882.8l5.7 5.7l-5.7 5.7l-5.7 -5.7z" fill="#bebebe"/>
<path d="M1243.5 868.8l5.7 5.7l-5.7 5.7l-5.7 -5.7z" fill="#bebebe"/>
<path d="M1261.5 832.8l5.7 5.7l-5.7 5.7l-5.7 -5.7z" fill="#bebebe"/>
<path d="M1280.5 786.8l5.7 5.7l-5.7 5.7l-5.7 -5.7z" fill="#bebebe"/>
<path d="M1298.5 798.8l5.7 5.7l-5.7 5.7l-5.7 -5.7z" fill="#bebebe"/>
<path d="M1317.5 771.8l5.7 5.7l-5.7 5.7l-5.7 -5.7z" fill="#bebebe"/>
<path d="M1336.5 780.8l5.7 5.7l-5.7 5.7l-5.7 -5.7z" fill="#bebebe"/>
<path d="M1354.5 812.8l5.7 5.7l-5.7 5.7l-5.7 -5.7z" fill="#bebebe"/>
<path d="M1373.5 783.8l5.7 5.7l-5.7 5.7l-5.7 -5.7z" fill="#bebebe"/>
<path d="M1392.5 745.8l5.7 5.7l-5.7 5.7l-5.7 -5.7z" fill="#bebebe"/>
<path d="M1410.5 754.8l5.7 5.7l-5.7 5.7l-5.7 -5.7z" fill="#bebebe"/>
<path d="M1429.5 873.8l5.7 5.7l-5.7 5.7l-5.7 -5.7z" fill="#bebebe"/>
<path d="M1448.5 847.8l5.7 5.7l-5.7 5.7l-5.7 -5.7z" fill="#bebebe"/>
</g>
<g>
<path d="M216.5 600.3l5.52 -4.01l-2.11 -6.48h-6.82l-2.11 6.48z" fill="#87ceeb"/>
<path d="M222.5 610.3l5.52 -4.01l-2.11 -6.48h-6.82l-2.11 6.48z" fill="#87ceeb"/>
<path d="M229.5 656.3l5.52 -4.01l-2.11 -6.48h-6.82l-2.11 6.48z" fill="#87ceeb"/>
<path d="M235.5 745.3l5.52 -4.01l-2.11 -6.48h-6.82l-2.11 6.48z" fill="#87ceeb"/>
<path d="M241.5 818.3l5.52 -4.01l-2.11 -6.48h-6.82l-2.11 6.48z" fill="#87ceeb"/>
<path d="M247.5 817.3l5.52 -4.01l-2.11 -6.48h-6.82l-2.11 6.48z" fill="#87ceeb"/>
<path d="M254.5 813.3l5.52 -4.01l-2.11 -6.48h-6.82l-2.11 6.48z" fill="#87ceeb"/>
<path d="M260.5 810.3l5.52 -4.01l-2.11 -6.48h-6.82l-2.11 6.48z" fill="#87ceeb"/>
<path d="M266.5 803.3l5.52 -4.01l-2.11 -6.48h-6.82l-2.11 6.48z" fill="#87ceeb"/>
<path d="M272.5 819.3l5.52 -4.01l-2.11 -6.48h-6.82l-2.11 6.48z" fill="#87ceeb"/>
<path d="M278.5 798.3l5.52 -4.01l-2.11 -6.48h-6.82l-2.11 6.48z" fill="#87ceeb"/>
<path d="M285.5 745.3l5.52 -4.01l-2.11 -6.48h-6.82l-2.11 6.48z" fill="#87ceeb"/>
<path d="M291.5 778.3l5.52 -4.01l-2.11 -6.48h-6.82l-2.11 6.48z" fill="#87ceeb"/>
<path d="M297.5 792.3l5.52 -4.01l-2.11 -6.48h-6.82l-2.11 6.48z" fill="#87ceeb"/>
<path d="M303.5 736.3l5.52 -4.01l-2.11 -6.48h-6.82l-2.11 6.48z" fill="#87ceeb"/>
<path d="M309.5 792.3l5.52 -4.01l-2.11 -6.48h-6.82l-2.11 6.48z" fill="#87ceeb"/>
<path d="M316.5 612.3l5.52 -4.01l-2.11 -6.48h-6.82l-2.11 6.48z" fill="#87ceeb"/>
<path d="M322.5 447.3l5.52 -4.01l-2.11 -6.48h-6.82l-2.11 6.48z" fill="#87ceeb"/>
<path d="M328.5 620.3l5.52 -4.01l-2.11 -6.48h-6.82l-2.11 6.48z" fill="#87ceeb"/>
<path d="M334.5 608.3l5.52 -4.01l-2.11 -6.48h-6.82l-2.11 6.48z" fill="#87ceeb"/>
<path d="M341.5 558.3l5.52 -4.01l-2.11 -6.48h-6.82l-2.11 6.48z" fill="#87ceeb"/>
<path d="M347.5 511.3l5.52 -4.01l-2.11 -6.48h-6.82l-2.11 6.48z" fill="#87ceeb"/>
<path d="M353.5 407.3l5.52 -4.01l-2.11 -6.48h-6.82l-2.11 6.48z" fill="#87ceeb"/>
<path d="M359.5 429.3l5.52 -4.01l-2.11 -6.48h-6.82l-2.11 6.48z" fill="#87ceeb"/>
<path d="M365.5 452.3l5.52 -4.01l-2.11 -6.48h-6.82l-2.11 6.48z" fill="#87ceeb"/>
<path d="M372.5 419.3l5.52 -4.01l-2.11 -6.48h-6.82l-2.11 6.48z" fill="#87ceeb"/>
<path d="M378.5 406.3l5.52 -4.01l-2.11 -6.48h-6.82l-2.11 6.48z" fill="#87ceeb"/>
<path d="M384.5 438.3l5.52 -4.01l-2.11 -6.48h-6.82l-2.11 6.48z" fill="#87ceeb"/>
<path d="M390.5 503.3l5.52 -4.01l-2.11 -6.48h-6.82l-2.11 6.48z" fill="#87ceeb"/>
<path d="M397.5 532.3l5.52 -4.01l-2.11 -6.48h-6.82l-2.11 6.48z" fill="#87ceeb"/>
<path d="M403.5 570.3l5.52 -4.01l-2.11 -6.48h-6.82l-2.11 6.48z" fill="#87ceeb"/>
<path d="M409.5 620.3l5.52 -4.01l-2.11 -6.48h-6.82l-2.11 6.48z" fill="#87ceeb"/>
<path d="M415.5 665.3l5.52 -4.01l-2.11 -6.48h-6.82l-2.11 6.48z" fill="#87ceeb"/>
<path d="M421.5 714.3l5.52 -4.01l-2.11 -6.48h-6.82l-2.11 6.48z" fill="#87ceeb"/>
<path d="M428.5 714.3l5.52 -4.01l-2.11 -6.48h-6.82l-2.11 6.48z" fill="#87ceeb"/>
<path d="M434.5 760.3l5.52 -4.01l-2.11 -6.48h-6.82l-2.11 6.48z" fill="#87ceeb"/>
<path d="M440.5 823.3l5.52 -4.01l-2.11 -6.48h-6.82l-2.11 6.48z" fill="#87ceeb"/>
<path d="M446.5 840.3l5.52 -4.01l-2.11 -6.48h-6.82l-2.11 6.48z" fill="#87ceeb"/>
<path d="M453.5 871.3l5.52 -4.01l-2.11 -6.48h-6.82l-2.11 6.48z" fill="#87ceeb"/>
<path d="M459.5 862.3l5.52 -4.01l-2.11 -6.48h-6.82l-2.11 6.48z" fill="#87ceeb"/>
<path d="M465.5 849.3l5.52 -4.01l-2.11 -6.48h-6.82l-2.11 6.48z" fill="#87ceeb"/>
<path d="M471.5 846.3l5.52 -4.01l-2.11 -6.48h-6.82l-2.11 6.48z" fill="#87ceeb"/>
<path d="M477.5 814.3l5.52 -4.01l-2.11 -6.48h-6.82l-2.11 6.48z" fill="#87ceeb"/>
<path d="M484.5 799.3l5.52 -4.01l-2.11 -6.48h-6.82l-2.11 6.48z" fill="#87ceeb"/>
<path d="M490.5 780.3l5.52 -4.01l-2.11 -6.48h-6.82l-2.11 6.48z" fill="#87ceeb"/>
<path d="M496.5 788.3l5.52 -4.01l-2.11 -6.48h-6.82l-2.11 6.48z" fill="#87ceeb"/>
<path d="M502.5 800.3l5.52 -4.01l-2.11 -6.48h-6.82l-2.11 6.48z" fill="#87ceeb"/>
<path d="M509.5 774.3l5.52 -4.01l-2.11 -6.48h-6.82l-2.11 6.48z" fill="#87ceeb"/>
<path d="M515.5 785.3l5.52 -4.01l-2.11 -6.48h-6.82l-2.11 6.48z" fill="#87ceeb"/>
<path d="M521.5 797.3l5.52 -4.01l-2.11 -6.48h-6.82l-2.11 6.48z" fill="#87ceeb"/>
<path d="M527.5 787.3l5.52 -4.01l-2.11 -6.48h-6.82l-2.11 6.48z" fill="#87ceeb"/>
<path d="M533.5 812.3l5.52 -4.01l-2.11 -6.48h-6.82l-2.11 6.48z" fill="#87ceeb"/>
<path d="M540.5 835.3l5.52 -4.01l-2.11 -6.48h-6.82l-2.11 6.48z" fill="#87ceeb"/>
<path d="M546.5 845.3l5.52 -4.01l-2.11 -6.48h-6.82l-2.11 6.48z" fill="#87ceeb"/>
<path d="M552.5 852.3l5.52 -4.01l-2.11 -6.48h-6.82l-2.11 6.48z" fill="#87ceeb"/>
<path d="M558.5 826.3l5.52 -4.01l-2.11 -6.48h-6.82l-2.11 6.48z" fill="#87ceeb"/>
<path d="M565.5 822.3l5.52 -4.01l-2.11 -6.48h-6.82l-2.11 6.48z" fill="#87ceeb"/>
<path d="M571.5 631.3l5.52 -4.01l-2.11 -6.48h-6.82l-2.11 6.48z" fill="#87ceeb"/>
<path d="M577.5 495.3l5.52 -4.01l-2.11 -6.48h-6.82l-2.11 6.48z" fill="#87ceeb"/>
<path d="M583.5 460.3l5.52 -4.01l-2.11 -6.48h-6.82l-2.11 6.48z" fill="#87ceeb"/>
<path d="M589.5 477.3l5.52 -4.01l-2.11 -6.48h-6.82l-2.11 6.48z" fill="#87ceeb"/>
<path d="M596.5 484.3l5.52 -4.01l-2.11 -6.48h-6.82l-2.11 6.48z" fill="#87ceeb"/>
<path d="M602.5 524.3l5.52 -4.01l-2.11 -6.48h-6.82l-2.11 6.48z" fill="#87ceeb"/>
<path d="M608.5 516.3l5.52 -4.01l-2.11 -6.48h-6.82l-2.11 6.48z" fill="#87ceeb"/>
<path d="M614.5 548.3l5.52 -4.01l-2.11 -6.48h-6.82l-2.11 6.48z" fill="#87ceeb"/>
<path d="M620.5 497.3l5.52 -4.01l-2.11 -6.48h-6.82l-2.11 6.48z" fill="#87ceeb"/>
<path d="M627.5 455.3l5.52 -4.01l-2.11 -6.48h-6.82l-2.11 6.48z" fill="#87ceeb"/>
<path d="M633.5 431.3l5.52 -4.01l-2.11 -6.48h-6.82l-2.11 6.48z" fill="#87ceeb"/>
<path d="M639.5 439.3l5.52 -4.01l-2.11 -6.48h-6.82l-2.11 6.48z" fill="#87ceeb"/>
<path d="M645.5 413.3l5.52 -4.01l-2.11 -6.48h-6.82l-2.11 6.48z" fill="#87ceeb"/>
<path d="M652.5 371.3l5.52 -4.01l-2.11 -6.48h-6.82l-2.11 6.48z" fill="#87ceeb"/>
<path d="M658.5 631.3l5.52 -4.01l-2.11 -6.48h-6.82l-2.11 6.48z" fill="#87ceeb"/>
<path d="M664.5 802.3l5.52 -4.01l-2.11 -6.48h-6.82l-2.11 6.48z" fill="#87ceeb"/>
<path d="M670.5 775.3l5.52 -4.01l-2.11 -6.48h-6.82l-2.11 6.48z" fill="#87ceeb"/>
<path d="M676.5 835.3l5.52 -4.01l-2.11 -6.48h-6.82l-2.11 6.48z" fill="#87ceeb"/>
<path d="M683.5 763.3l5.52 -4.01l-2.11 -6.48h-6.82l-2.11 6.48z" fill="#87ceeb"/>
<path d="M689.5 737.3l5.52 -4.01l-2.11 -6.48h-6.82l-2.11 6.48z" fill="#87ceeb"/>
<path d="M695.5 798.3l5.52 -4.01l-2.11 -6.48h-6.82l-2.11 6.48z" fill="#87ceeb"/>
<path d="M701.5 786.3l5.52 -4.01l-2.11 -6.48h-6.82l-2.11 6.48z" fill="#87ceeb"/>
<path d="M708.5 769.3l5.52 -4.01l-2.11 -6.48h-6.82l-2.11 6.48z" fill="#87ceeb"/>
<path d="M714.5 798.3l5.52 -4.01l-2.11 -6.48h-6.82l-2.11 6.48z" fill="#87ceeb"/>
<path d="M720.5 802.3l5.52 -4.01l-2.11 -6.48h-6.82l-2.11 6.48z" fill="#87ceeb"/>
<path d="M726.5 844.3l5.52 -4.01l-2.11 -6.48h-6.82l-2.11 6.48z" fill="#87ceeb"/>
<path d="M732.5 866.3l5.52 -4.01l-2.11 -6.48h-6.82l-2.11 6.48z" fill="#87ceeb"/>
<path d="M739.5 860.3l5.52 -4.01l-2.11 -6.48h-6.82l-2.11 6.48z" fill="#87ceeb"/>
<path d="M745.5 874.3l5.52 -4.01l-2.11 -6.48h-6.82l-2.11 6.48z" fill="#87ceeb"/>
<path d="M751.5 877.3l5.52 -4.01l-2.11 -6.48h-6.82l-2.11 6.48z" fill="#87ceeb"/>
<path d="M757.5 870.3l5.52 -4.01l-2.11 -6.48h-6.82l-2.11 6.48z" fill="#87ceeb"/>
<path d="M764.5 840.3l5.52 -4.01l-2.11 -6.48h-6.82l-2.11 6.48z" fill="#87ceeb"/>
<path d="M770.5 828.3l5.52 -4.01l-2.11 -6.48h-6.82l-2.11 6.48z" fill="#87ceeb"/>
<path d="M776.5 765.3l5.52 -4.01l-2.11 -6.48h-6.82l-2.11 6.48z" fill="#87ceeb"/>
<path d="M782.5 743.3l5.52 -4.01l-2.11 -6.48h-6.82l-2.11 6.48z" fill="#87ceeb"/>
<path d="M788.5 766.3l5.52 -4.01l-2.11 -6.48h-6.82l-2.11 6.48z" fill="#87ceeb"/>
<path d="M795.5 767.3l5.52 -4.01l-2.11 -6.48h-6.82l-2.11 6.48z" fill="#87ceeb"/>
<path d="M801.5 789.3l5.52 -4.01l-2.11 -6.48h-6.82l-2.11 6.48z" fill="#87ceeb"/>
<path d="M807.5 869.3l5.52 -4.01l-2.11 -6.48h-6.82l-2.11 6.48z" fill="#87ceeb"/>
<path d="M813.5 881.3l5.52 -4.01l-2.11 -6.48h-6.82l-2.11 6.48z" fill="#87ceeb"/>
<path d="M820.5 871.3l5.52 -4.01l-2.11 -6.48h-6.82l-2.11 6.48z" fill="#87ceeb"/>
<path d="M826.5 868.3l5.52 -4.01l-2.11 -6.48h-6.82l-2.11 6.48z" fill="#87ceeb"/>
<path d="M832.5 874.3l5.52 -4.01l-2.11 -6.48h-6.82l-2.11 6.48z" fill="#87ceeb"/>
<path d="M838.5 862.3l5.52 -4.01l-2.11 -6.48h-6.82l-2.11 6.48z" fill="#87ceeb"/>
<path d="M844.5 871.3l5.52 -4.01l-2.11 -6.48h-6.82l-2.11 6.48z" fill="#87ceeb"/>
<path d="M851.5 870.3l5.52 -4.01l-2.11 -6.48h-6.82l-2.11 6.48z" fill="#87ceeb"/>
<path d="M857.5 869.3l5.52 -4.01l-2.11 -6.48h-6.82l-2.11 6.48z" fill="#87ceeb"/>
<path d="M863.5 866.3l5.52 -4.01l-2.11 -6.48h-6.82l-2.11 6.48z" fill="#87ceeb"/>
<path d="M869.5 868.3l5.52 -4.01l-2.11 -6.48h-6.82l-2.11 6.48z" fill="#87ceeb"/>
<path d="M876.5 868.3l5.52 -4.01l-2.11 -6.48h-6.82l-2.11 6.48z" fill="#87ceeb"/>
<path d="M882.5 867.3l5.52 -4.01l-2.11 -6.48h-6.82l-2.11 6.48z" fill="#87ceeb"/>
<path d="M888.5 872.3l5.52 -4.01l-2.11 -6.48h-6.82l-2.11 6.48z" fill="#87ceeb"/>
<path d="M894.5 867.3l5.52 -4.01l-2.11 -6.48h-6.82l-2.11 6.48z" fill="#87ceeb"/>
<path d="M900.5 870.3l5.52 -4.01l-2.11 -6.48h-6.82l-2.11 6.48z" fill="#87ceeb"/>
<path d="M907.5 868.3l5.52 -4.01l-2.11 -6.48h-6.82l-2.11 6.48z" fill="#87ceeb"/>
<path d="M913.5 866.3l5.52 -4.01l-2.11 -6.48h-6.82l-2.11 6.48z" fill="#87ceeb"/>
<path d="M919.5 847.3l5.52 -4.01l-2.11 -6.48h-6.82l-2.11 6.48z" fill="#87ceeb"/>
<path d="M925.5 845.3l5.52 -4.01l-2.11 -6.48h-6.82l-2.11 6.48z" fill="#87ceeb"/>
<path d="M932.5 833.3l5.52 -4.01l-2.11 -6.48h-6.82l-2.11 6.48z" fill="#87ceeb"/>
<path d="M938.5 820.3l5.52 -4.01l-2.11 -6.48h-6.82l-2.11 6.48z" fill="#87ceeb"/>
<path d="M944.5 822.3l5.52 -4.01l-2.11 -6.48h-6.82l-2.11 6.48z" fill="#87ceeb"/>
<path d="M950.5 840.3l5.52 -4.01l-2.11 -6.48h-6.82l-2.11 6.48z" fill="#87ceeb"/>
<path d="M956.5 854.3l5.52 -4.01l-2.11 -6.48h-6.82l-2.11 6.48z" fill="#87ceeb"/>
<path d="M963.5 863.3l5.52 -4.01l-2.11 -6.48h-6.82l-2.11 6.48z" fill="#87ceeb"/>
<path d="M981.5 842.3l5.52 -4.01l-2.11 -6.48h-6.82l-2.11 6.48z" fill="#87ceeb"/>
<path d="M1000.5 838.3l5.52 -4.01l-2.11 -6.48h-6.82l-2.11 6.48z" fill="#87ceeb"/>
<path d="M1019.5 850.3l5.52 -4.01l-2.11 -6.48h-6.82l-2.11 6.48z" fill="#87ceeb"/>
<path d="M1037.5 848.3l5.52 -4.01l-2.11 -6.48h-6.82l-2.11 6.48z" fill="#87ceeb"/>
<path d="M1056.5 860.3l5.52 -4.01l-2.11 -6.48h-6.82l-2.11 6.48z" fill="#87ceeb"/>
<path d="M1075.5 851.3l5.52 -4.01l-2.11 -6.48h-6.82l-2.11 6.48z" fill="#87ceeb"/>
<path d="M1093.5 813.3l5.52 -4.01l-2.11 -6.48h-6.82l-2.11 6.48z" fill="#87ceeb"/>
<path d="M1112.5 851.3l5.52 -4.01l-2.11 -6.48h-6.82l-2.11 6.48z" fill="#87ceeb"/>
<path d="M1131.5 865.3l5.52 -4.01l-2.11 -6.48h-6.82l-2.11 6.48z" fill="#87ceeb"/>
<path d="M1149.5 865.3l5.52 -4.01l-2.11 -6.48h-6.82l-2.11 6.48z" fill="#87ceeb"/>
<path d="M1168.5 895.3l5.52 -4.01l-2.11 -6.48h-6.82l-2.11 6.48z" fill="#87ceeb"/>
<path d="M1187.5 900.3l5.52 -4.01l-2.11 -6.48h-6.82l-2.11 6.48z" fill="#87ceeb"/>
<path d="M1205.5 891.3l5.52 -4.01l-2.11 -6.48h-6.82l-2.11 6.48z" fill="#87ceeb"/>
<path d="M1224.5 896.3l5.52 -4.01l-2.11 -6.48h-6.82l-2.11 6.48z" fill="#87ceeb"/>
<path d="M1243.5 756.3l5.52 -4.01l-2.11 -6.48h-6.82l-2.11 6.48z" fill="#87ceeb"/>
<path d="M1261.5 741.3l5.52 -4.01l-2.11 -6.48h-6.82l-2.11 6.48z" fill="#87ceeb"/>
<path d="M1280.5 653.3l5.52 -4.01l-2.11 -6.48h-6.82l-2.11 6.48z" fill="#87ceeb"/>
<path d="M1298.5 629.3l5.52 -4.01l-2.11 -6.48h-6.82l-2.11 6.48z" fill="#87ceeb"/>
<path d="M1317.5 600.3l5.52 -4.01l-2.11 -6.48h-6.82l-2.11 6.48z" fill="#87ceeb"/>
<path d="M1336.5 700.3l5.52 -4.01l-2.11 -6.48h-6.82l-2.11 6.48z" fill="#87ceeb"/>
<path d="M1354.5 760.3l5.52 -4.01l-2.11 -6.48h-6.82l-2.11 6.48z" fill="#87ceeb"/>
<path d="M1373.5 783.3l5.52 -4.01l-2.11 -6.48h-6.82l-2.11 6.48z" fill="#87ceeb"/>
<path d="M1392.5 680.3l5.52 -4.01l-2.11 -6.48h-6.82l-2.11 6.48z" fill="#87ceeb"/>
<path d="M1410.5 685.3l5.52 -4.01l-2.11 -6.48h-6.82l-2.11 6.48z" fill="#87ceeb"/>
<path d="M1429.5 879.3l5.52 -4.01l-2.11 -6.48h-6.82l-2.11 6.48z" fill="#87ceeb"/>
<path d="M1448.5 855.3l5.52 -4.01l-2.11 -6.48h-6.82l-2.11 6.48z" fill="#87ceeb"/>
</g>
<g>
<path d="M217 709.5h11M222.5 704v11M217 704l11 11M217 715l11 -11" stroke="#ffa500" stroke-width="1" fill="none"/>
<path d="M224 715.5h11M229.5 710v11M224 710l11 11M224 721l11 -11" stroke="#ffa500" stroke-width="1" fill="none"/>
<path d="M230 728.5h11M235.5 723v11M230 723l11 11M230 734l11 -11" stroke="#ffa500" stroke-width="1" fill="none"/>
<path d="M236 717.5h11M241.5 712v11M236 712l11 11M236 723l11 -11" stroke="#ffa500" stroke-width="1" fill="none"/>
<path d="M242 713.5h11M247.5 708v11M242 708l11 11M242 719l11 -11" stroke="#ffa500" stroke-width="1" fill="none"/>
<path d="M249 709.5h11M254.5 704v11M249 704l11 11M249 715l11 -11" stroke="#ffa500" stroke-width="1" fill="none"/>
<path d="M255 695.5h11M260.5 690v11M255 690l11 11M255 701l11 -11" stroke="#ffa500" stroke-width="1" fill="none"/>
<path d="M261 687.5h11M266.5 682v11M261 682l11 11M261 693l11 -11" stroke="#ffa500" stroke-width="1" fill="none"/>
<path d="M267 687.5h11M272.5 682v11M267 682l11 11M267 693l11 -11" stroke="#ffa500" stroke-width="1" fill="none"/>
<path d="M273 675.5h11M278.5 670v11M273 670l11 11M273 681l11 -11" stroke="#ffa500" stroke-width="1" fill="none"/>
<path d="M280 667.5h11M285.5 662v11M280 662l11 11M280 673l11 -11" stroke="#ffa500" stroke-width="1" fill="none"/>
<path d="M286 655.5h11M291.5 650v11M286 650l11 11M286 661l11 -11" stroke="#ffa500" stroke-width="1" fill="none"/>
<path d="M292 617.5h11M297.5 612v11M292 612l11 11M292 623l11 -11" stroke="#ffa500" stroke-width="1" fill="none"/>
<path d="M298 588.5h11M303.5 583v11M298 583l11 11M298 594l11 -11" stroke="#ffa500" stroke-width="1" fill="none"/>
<path d="M304 547.5h11M309.5 542v11M304 542l11 11M304 553l11 -11" stroke="#ffa500" stroke-width="1" fill="none"/>
<path d="M311 515.5h11M316.5 510v11M311 510l11 11M311 521l11 -11" stroke="#ffa500" stroke-width="1" fill="none"/>
<path d="M317 479.5h11M322.5 474v11M317 474l11 11M317 485l11 -11" stroke="#ffa500" stroke-width="1" fill="none"/>
<path d="M323 466.5h11M328.5 461v11M323 461l11 11M323 472l11 -11" stroke="#ffa500" stroke-width="1" fill="none"/>
<path d="M329 451.5h11M334.5 446v11M329 446l11 11M329 457l11 -11" stroke="#ffa500" stroke-width="1" fill="none"/>
<path d="M336 456.5h11M341.5 451v11M336 451l11 11M336 462l11 -11" stroke="#ffa500" stroke-width="1" fill="none"/>
<path d="M342 465.5h11M347.5 460v11M342 460l11 11M342 471l11 -11" stroke="#ffa500" stroke-width="1" fill="none"/>
<path d="M348 472.5h11M353.5 467v11M348 467l11 11M348 478l11 -11" stroke="#ffa500" stroke-width="1" fill="none"/>
<path d="M354 493.5h11M359.5 488v11M354 488l11 11M354 499l11 -11" stroke="#ffa500" stroke-width="1" fill="none"/>
<path d="M360 534.5h11M365.5 529v11M360 529l11 11M360 540l11 -11" stroke="#ffa500" stroke-width="1" fill="none"/>
<path d="M367 544.5h11M372.5 539v11M367 539l11 11M367 550l11 -11" stroke="#ffa500" stroke-width="1" fill="none"/>
<path d="M373 554.5h11M378.5 549v11M373 549l11 11M373 560l11 -11" stroke="#ffa500" stroke-width="1" fill="none"/>
<path d="M379 575.5h11M384.5 570v11M379 570l11 11M379 581l11 -11" stroke="#ffa500" stroke-width="1" fill="none"/>
<path d="M385 596.5h11M390.5 591v11M385 591l11 11M385 602l11 -11" stroke="#ffa500" stroke-width="1" fill="none"/>
<path d="M392 628.5h11M397.5 623v11M392 623l11 11M392 634l11 -11" stroke="#ffa500" stroke-width="1" fill="none"/>
<path d="M398 664.5h11M403.5 659v11M398 659l11 11M398 670l11 -11" stroke="#ffa500" stroke-width="1" fill="none"/>
<path d="M404 692.5h11M409.5 687v11M404 687l11 11M404 698l11 -11" stroke="#ffa500" stroke-width="1" fill="none"/>
<path d="M410 724.5h11M415.5 719v11M410 719l11 11M410 730l11 -11" stroke="#ffa500" stroke-width="1" fill="none"/>
<path d="M416 752.5h11M421.5 747v11M416 747l11 11M416 758l11 -11" stroke="#ffa500" stroke-width="1" fill="none"/>
<path d="M423 769.5h11M428.5 764v11M423 764l11 11M423 775l11 -11" stroke="#ffa500" stroke-width="1" fill="none"/>
<path d="M429 782.5h11M434.5 777v11M429 777l11 11M429 788l11 -11" stroke="#ffa500" stroke-width="1" fill="none"/>
<path d="M435 795.5h11M440.5 790v11M435 790l11 11M435 801l11 -11" stroke="#ffa500" stroke-width="1" fill="none"/>
<path d="M454 770.5h11M459.5 765v11M454 765l11 11M454 776l11 -11" stroke="#ffa500" stroke-width="1" fill="none"/>
<path d="M472 718.5h11M477.5 713v11M472 713l11 11M472 724l11 -11" stroke="#ffa500" stroke-width="1" fill="none"/>
<path d="M491 687.5h11M496.5 682v11M491 682l11 11M491 693l11 -11" stroke="#ffa500" stroke-width="1" fill="none"/>
<path d="M510 687.5h11M515.5 682v11M510 682l11 11M510 693l11 -11" stroke="#ffa500" stroke-width="1" fill="none"/>
<path d="M528 651.5h11M533.5 646v11M528 646l11 11M528 657l11 -11" stroke="#ffa500" stroke-width="1" fill="none"/>
<path d="M547 632.5h11M552.5 627v11M547 627l11 11M547 638l11 -11" stroke="#ffa500" stroke-width="1" fill="none"/>
<path d="M566 615.5h11M571.5 610v11M566 610l11 11M566 621l11 -11" stroke="#ffa500" stroke-width="1" fill="none"/>
<path d="M584 625.5h11M589.5 620v11M584 620l11 11M584 631l11 -11" stroke="#ffa500" stroke-width="1" fill="none"/>
<path d="M603 627.5h11M608.5 622v11M603 622l11 11M603 633l11 -11" stroke="#ffa500" stroke-width="1" fill="none"/>
<path d="M622 627.5h11M627.5 622v11M622 622l11 11M622 633l11 -11" stroke="#ffa500" stroke-width="1" fill="none"/>
<path d="M640 613.5h11M645.5 608v11M640 608l11 11M640 619l11 -11" stroke="#ffa500" stroke-width="1" fill="none"/>
<path d="M659 668.5h11M664.5 663v11M659 663l11 11M659 674l11 -11" stroke="#ffa500" stroke-width="1" fill="none"/>
<path d="M678 678.5h11M683.5 673v11M678 673l11 11M678 684l11 -11" stroke="#ffa500" stroke-width="1" fill="none"/>
<path d="M696 725.5h11M701.5 720v11M696 720l11 11M696 731l11 -11" stroke="#ffa500" stroke-width="1" fill="none"/>
<path d="M715 741.5h11M720.5 736v11M715 736l11 11M715 747l11 -11" stroke="#ffa500" stroke-width="1" fill="none"/>
<path d="M734 766.5h11M739.5 761v11M734 761l11 11M734 772l11 -11" stroke="#ffa500" stroke-width="1" fill="none"/>
<path d="M752 763.5h11M757.5 758v11M752 758l11 11M752 769l11 -11" stroke="#ffa500" stroke-width="1" fill="none"/>
<path d="M771 744.5h11M776.5 739v11M771 739l11 11M771 750l11 -11" stroke="#ffa500" stroke-width="1" fill="none"/>
<path d="M790 727.5h11M795.5 722v11M790 722l11 11M790 733l11 -11" stroke="#ffa500" stroke-width="1" fill="none"/>
<path d="M808 758.5h11M813.5 753v11M808 753l11 11M808 764l11 -11" stroke="#ffa500" stroke-width="1" fill="none"/>
<path d="M827 763.5h11M832.5 758v11M827 758l11 11M827 769l11 -11" stroke="#ffa500" stroke-width="1" fill="none"/>
<path d="M846 773.5h11M851.5 768v11M846 768l11 11M846 779l11 -11" stroke="#ffa500" stroke-width="1" fill="none"/>
<path d="M864 789.5h11M869.5 784v11M864 784l11 11M864 795l11 -11" stroke="#ffa500" stroke-width="1" fill="none"/>
<path d="M883 795.5h11M888.5 790v11M883 790l11 11M883 801l11 -11" stroke="#ffa500" stroke-width="1" fill="none"/>
<path d="M902 789.5h11M907.5 784v11M902 784l11 11M902 795l11 -11" stroke="#ffa500" stroke-width="1" fill="none"/>
<path d="M920 780.5h11M925.5 775v11M920 775l11 11M920 786l11 -11" stroke="#ffa500" stroke-width="1" fill="none"/>
<path d="M939 763.5h11M944.5 758v11M939 758l11 11M939 769l11 -11" stroke="#ffa500" stroke-width="1" fill="none"/>
<path d="M958 778.5h11M963.5 773v11M958 773l11 11M958 784l11 -11" stroke="#ffa500" stroke-width="1" fill="none"/>
<path d="M976 766.5h11M981.5 761v11M976 761l11 11M976 772l11 -11" stroke="#ffa500" stroke-width="1" fill="none"/>
<path d="M995 752.5h11M1000.5 747v11M995 747l11 11M995 758l11 -11" stroke="#ffa500" stroke-width="1" fill="none"/>
<path d="M1014 758.5h11M1019.5 753v11M1014 753l11 11M1014 764l11 -11" stroke="#ffa500" stroke-width="1" fill="none"/>
<path d="M1032 766.5h11M1037.5 761v11M1032 761l11 11M1032 772l11 -11" stroke="#ffa500" stroke-width="1" fill="none"/>
<path d="M1051 759.5h11M1056.5 754v11M1051 754l11 11M1051 765l11 -11" stroke="#ffa500" stroke-width="1" fill="none"/>
<path d="M1070 738.5h11M1075.5 733v11M1070 733l11 11M1070 744l11 -11" stroke="#ffa500" stroke-width="1" fill="none"/>
<path d="M1088 710.5h11M1093.5 705v11M1088 705l11 11M1088 716l11 -11" stroke="#ffa500" stroke-width="1" fill="none"/>
<path d="M1107 743.5h11M1112.5 738v11M1107 738l11 11M1107 749l11 -11" stroke="#ffa500" stroke-width="1" fill="none"/>
<path d="M1126 752.5h11M1131.5 747v11M1126 747l11 11M1126 758l11 -11" stroke="#ffa500" stroke-width="1" fill="none"/>
<path d="M1144 767.5h11M1149.5 762v11M1144 762l11 11M1144 773l11 -11" stroke="#ffa500" stroke-width="1" fill="none"/>
<path d="M1163 786.5h11M1168.5 781v11M1163 781l11 11M1163 792l11 -11" stroke="#ffa500" stroke-width="1" fill="none"/>
<path d="M1182 802.5h11M1187.5 797v11M1182 797l11 11M1182 808l11 -11" stroke="#ffa500" stroke-width="1" fill="none"/>
<path d="M1200 797.5h11M1205.5 792v11M1200 792l11 11M1200 803l11 -11" stroke="#ffa500" stroke-width="1" fill="none"/>
<path d="M1219 785.5h11M1224.5 780v11M1219 780l11 11M1219 791l11 -11" stroke="#ffa500" stroke-width="1" fill="none"/>
<path d="M1238 770.5h11M1243.5 765v11M1238 765l11 11M1238 776l11 -11" stroke="#ffa500" stroke-width="1" fill="none"/>
<path d="M1256 794.5h11M1261.5 789v11M1256 789l11 11M1256 800l11 -11" stroke="#ffa500" stroke-width="1" fill="none"/>
<path d="M1275 795.5h11M1280.5 790v11M1275 790l11 11M1275 801l11 -11" stroke="#ffa500" stroke-width="1" fill="none"/>
<path d="M1293 789.5h11M1298.5 784v11M1293 784l11 11M1293 795l11 -11" stroke="#ffa500" stroke-width="1" fill="none"/>
<path d="M1312 798.5h11M1317.5 793v11M1312 793l11 11M1312 804l11 -11" stroke="#ffa500" stroke-width="1" fill="none"/>
<path d="M1331 802.5h11M1336.5 797v11M1331 797l11 11M1331 808l11 -11" stroke="#ffa500" stroke-width="1" fill="none"/>
<path d="M1349 796.5h11M1354.5 791v11M1349 791l11 11M1349 802l11 -11" stroke="#ffa500" stroke-width="1" fill="none"/>
<path d="M1368 771.5h11M1373.5 766v11M1368 766l11 11M1368 777l11 -11" stroke="#ffa500" stroke-width="1" fill="none"/>
<path d="M1387 750.5h11M1392.5 745v11M1387 745l11 11M1387 756l11 -11" stroke="#ffa500" stroke-width="1" fill="none"/>
<path d="M1405 766.5h11M1410.5 761v11M1405 761l11 11M1405 772l11 -11" stroke="#ffa500" stroke-width="1" fill="none"/>
<path d="M1443 763.5h11M1448.5 758v11M1443 758l11 11M1443 769l11 -11" stroke="#ffa500" stroke-width="1" fill="none"/>
</g>
</g>
<path d="M260.5 910.5v-12.5M260.5 84.5v11.5M409.5 910.5v-12.5M409.5 84.5v11.5M558.5 910.5v-12.5M558.5 84.5v11.5M708.5 910.5v-12.5M708.5 84.5v11.5M857.5 910.5v-12.5M857.5 84.5v11.5M1006.5 910.5v-12.5M1006.5 84.5v11.5M1155.5 910.5v-12.5M1155.5 84.5v11.5M1305.5 910.5v-12.5M1305.5 84.5v11.5M110.5 806.5h12.5M1454.5 806.5h-11.5M110.5 703.5h12.5M1454.5 703.5h-11.5M110.5 600.5h12.5M1454.5 600.5h-11.5M110.5 497.5h12.5M1454.5 497.5h-11.5M110.5 393.5h12.5M1454.5 393.5h-11.5M110.5 290.5h12.5M1454.5 290.5h-11.5M110.5 187.5h12.5M1454.5 187.5h-11.5" stroke="#000" stroke-width="1" fill="none"/>
<rect x="110.5" y="84.5" width="1344.0" height="826.0" fill="none" stroke="#000" stroke-width="1"/>
<text x="1338.6" y="118.6" text-anchor="end">ECMWF</text>
<rect x="1383.95" y="104.95" width="9.1" height="9.1" fill="#0000cd"/>
<text x="1338.6" y="146.6" text-anchor="end">HRRR</text>
<circle cx="1388.5" cy="137.5" r="5.7" fill="#006400"/>
<text x="1338.6" y="174.6" text-anchor="end">NAM 3 km</text>
<path d="M1388.5 159.2l6 10.95h-12z" fill="#ff0000"/>
<text x="1338.6" y="202.6" text-anchor="end">NAM 12 km</text>
<path d="M1388.5 199.8l6 -10.95h-12z" fill="#000000"/>
<text x="1338.6" y="230.6" text-anchor="end">GFS 0.125°</text>
<path d="M1388.5 215.8l5.7 5.7l-5.7 5.7l-5.7 -5.7z" fill="#bebebe"/>
<text x="1338.6" y="258.6" text-anchor="end">GFS 0.250°</text>
<path d="M1388.5 255.3l5.52 -4.01l-2.11 -6.48h-6.82l-2.11 6.48z" fill="#87ceeb"/>
<text x="1338.6" y="286.6" text-anchor="end">NBM</text>
<path d="M1383 277.5h11M1388.5 272v11M1383 272l11 11M1383 283l11 -11" stroke="#ffa500" stroke-width="1" fill="none"/>
</svg></body></html>
